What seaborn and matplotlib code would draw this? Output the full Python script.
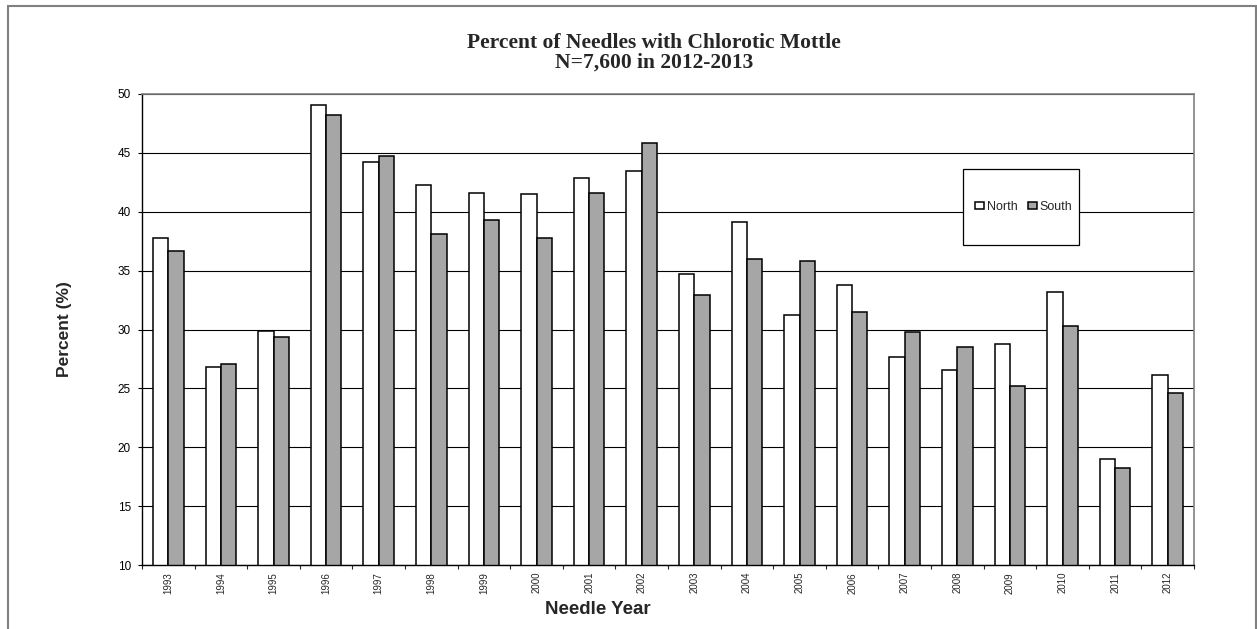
import matplotlib
matplotlib.use("Agg")
import matplotlib.pyplot as plt
from matplotlib.patches import Rectangle
import seaborn as sns
import pandas as pd

years = ["1993", "1994", "1995", "1996", "1997", "1998", "1999", "2000", "2001", "2002",
         "2003", "2004", "2005", "2006", "2007", "2008", "2009", "2010", "2011", "2012"]
north = [37.8, 26.8, 29.9, 49.1, 44.2, 42.3, 41.6, 41.5, 42.9, 43.5,
         34.7, 39.1, 31.2, 33.8, 27.7, 26.6, 28.8, 33.2, 19.0, 26.1]
south = [36.7, 27.1, 29.4, 48.2, 44.7, 38.1, 39.3, 37.8, 41.6, 45.8,
         32.9, 36.0, 35.8, 31.5, 29.8, 28.5, 25.2, 30.3, 18.2, 24.6]
series = ["North", "South"]
yticks = [10, 15, 20, 25, 30, 35, 40, 45, 50]

df = pd.DataFrame({
    "Year": years * 2,
    "Series": ["North"] * len(years) + ["South"] * len(years),
    "Percent": north + south,
})

sns.set_style("white")
plt.rcParams["font.family"] = ["Liberation Sans", "DejaVu Sans"]

W, H = 1257, 629
fig = plt.figure(figsize=(W / 100, H / 100), dpi=100)
ax = fig.add_axes([142 / W, (H - 565) / H, (1194 - 142) / W, (565 - 94) / H])

sns.barplot(data=df, x="Year", y="Percent", hue="Series", order=years, hue_order=series,
            palette={"North": "white", "South": "#a6a6a6"}, edgecolor="black",
            linewidth=1.1, width=0.58, gap=0, ax=ax, legend=True, saturation=1)

ax.set_ylim(10, 50)
ax.set_yticks(yticks)
ax.set_xlim(-0.5, len(years) - 0.5)
ax.set_axisbelow(True)
ax.yaxis.grid(True, color="black", linewidth=0.8)
ax.xaxis.grid(False)

for s in ["top", "right"]:
    ax.spines[s].set_color("#808080")
    ax.spines[s].set_linewidth(1.2)
for s in ["left", "bottom"]:
    ax.spines[s].set_color("black")
    ax.spines[s].set_linewidth(1.0)

ax.tick_params(axis="y", which="major", left=True, length=3, width=0.8, pad=5,
               labelsize=8.5, colors="black")
ax.set_xticks(range(len(years)))
ax.set_xticklabels(years, rotation=90, fontsize=7)
ax.tick_params(axis="x", which="major", bottom=True, length=0, pad=5)
ax.set_xticks([i - 0.5 for i in range(len(years) + 1)], minor=True)
ax.tick_params(axis="x", which="minor", bottom=True, length=3, width=0.8)

ax.set_xlabel("Needle Year", fontsize=13.5, fontweight="bold")
ax.xaxis.set_label_coords((598 - 142) / 1052, -0.076)
ax.set_ylabel("Percent (%)", fontsize=12.5, fontweight="bold")
ax.yaxis.set_label_coords(-0.0665, 0.5)

# legend box
ax.add_patch(Rectangle((0.7804, 0.6794), 0.1103, 0.1614, transform=ax.transAxes,
                       facecolor="white", edgecolor="black", linewidth=0.9, zorder=5))
leg = ax.legend(loc="center", bbox_to_anchor=(0.838, 0.760), ncol=2, frameon=False,
                fontsize=9, handlelength=0.75, handleheight=0.55, handletextpad=0.2,
                columnspacing=0.8, borderpad=0, title=None)
leg.set_zorder(6)

fig.text(654 / W, 1 - 53 / H, "Percent of Needles with Chlorotic Mottle\nN=7,600 in 2012-2013",
         ha="center", va="center", fontsize=15.5, fontweight="bold",
         family=["Liberation Serif", "DejaVu Serif"], linespacing=0.95)

fig.patches.append(Rectangle((8 / W, -0.02), (1256 - 8) / W, 1 - 6 / H + 0.02,
                             transform=fig.transFigure, fill=False,
                             edgecolor="#808080", linewidth=1.5))

fig.savefig("out.png", dpi=100)
